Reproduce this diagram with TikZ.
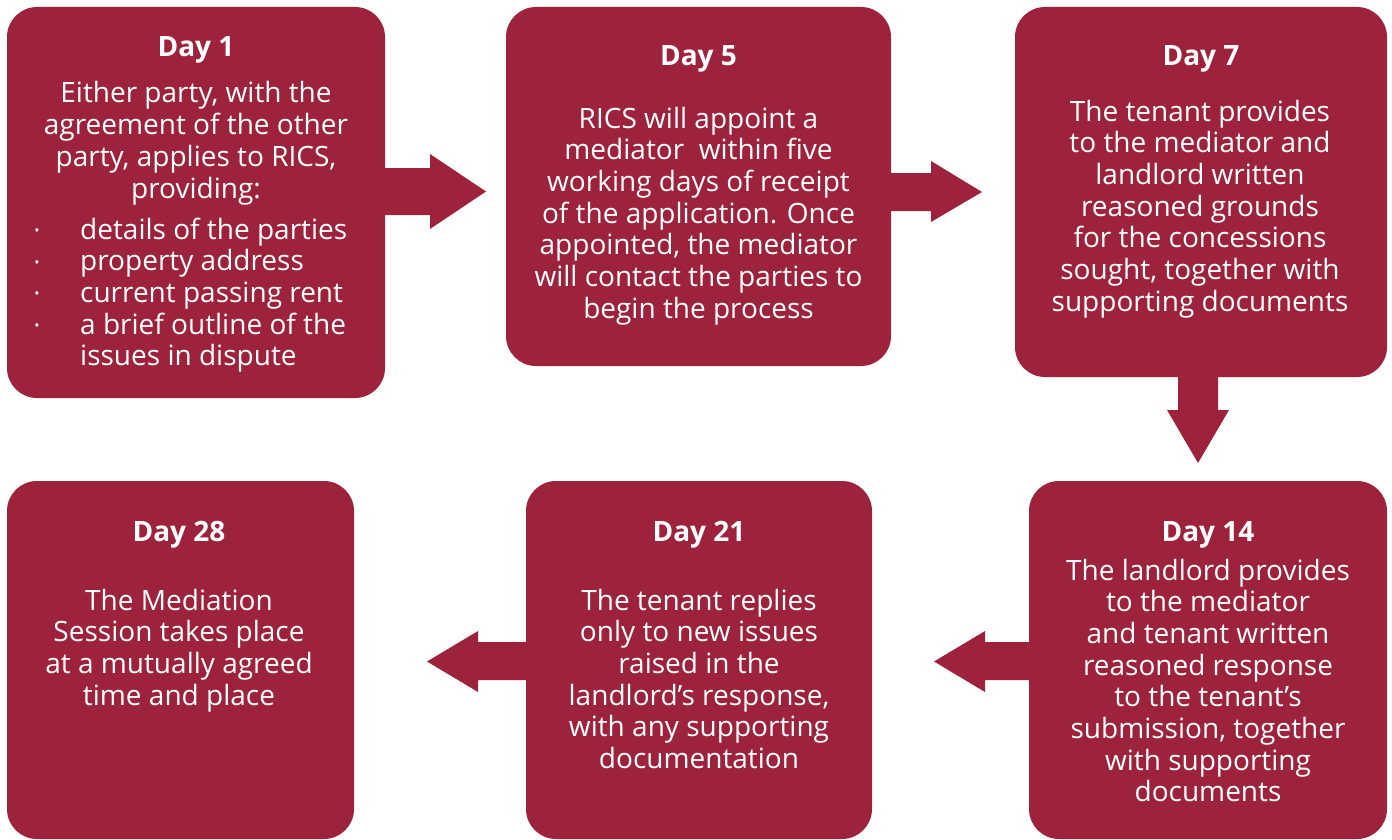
\documentclass[tikz,border=0pt]{standalone}
\usepackage{fontspec}
\setmainfont{Open Sans}
\definecolor{rics}{RGB}{157,34,59}
\begin{document}
\begin{tikzpicture}[x=1pt,y=-1pt,
  box/.style={fill=rics, rounded corners=30pt, inner sep=0pt, draw=none},
  title/.style={text=white, anchor=base, inner sep=0pt, font=\fontsize{28}{31.7}\selectfont\bfseries},
  body/.style={text=white, anchor=base, inner sep=0pt, align=center, font=\fontsize{28}{31.7}\selectfont},
  flow/.style={fill=rics}]
\useasboundingbox (0,0) rectangle (1392,840);
% boxes
\node[box, minimum width=378pt, minimum height=391pt] (b1) at (196,202.5) {};
\node[box, minimum width=385pt, minimum height=359pt] (b2) at (698.5,186.5) {};
\node[box, minimum width=372pt, minimum height=370pt] (b3) at (1201,192) {};
\node[box, minimum width=358pt, minimum height=358pt] (b6) at (1208,660) {};
\node[box, minimum width=346pt, minimum height=358pt] (b5) at (699,660) {};
\node[box, minimum width=347pt, minimum height=358pt] (b4) at (180.5,660) {};
% arrows
\fill[flow] (b1.east |- 0,168) -- (430,168) -- (430,154) -- (486,191.5) -- (430,229) -- (430,215) -- (b1.east |- 0,215) -- cycle;
\fill[flow] (b2.east |- 0,173) -- (931,173) -- (931,161) -- (982,192) -- (931,222) -- (931,211) -- (b2.east |- 0,211) -- cycle;
\fill[flow] (b3.south -| 1178,0) -- (1178,410) -- (1167,410) -- (1198,463) -- (1229,410) -- (1218,410) -- (b3.south -| 1218,0) -- cycle;
\fill[flow] (b6.west |- 0,642) -- (985,642) -- (985,631) -- (934,661.5) -- (985,692) -- (985,680) -- (b6.west |- 0,680) -- cycle;
\fill[flow] (b5.west |- 0,642) -- (478,642) -- (478,631) -- (427,661.5) -- (478,692) -- (478,680) -- (b5.west |- 0,680) -- cycle;
% titles
\node[title] (t1) at (196,57) {Day 1};
\node[title] (t2) at (698.5,66) {Day 5};
\node[title] (t3) at (1201,66) {Day 7};
\node[title] (t6) at (1208,541) {Day 14};
\node[title] (t5) at (699,541) {Day 21};
\node[title] (t4) at (179,541) {Day 28};
% bodies (anchor base = baseline of last line)
\node[body] (d1) at (196,198.1) {Either party, with the\\agreement of the other\\party, applies to RICS,\\providing:};
\node[body, align=left, anchor=base west] (l1) at (80,365.8) {details of the parties\\property address\\current passing rent\\a brief outline of the\\issues in dispute};
\node[body, anchor=base] (k1) at (37,330.5) {\fontsize{14}{31.7}\selectfont •\\\fontsize{14}{31.7}\selectfont •\\\fontsize{14}{31.7}\selectfont •\\\fontsize{14}{31.7}\selectfont •};
\node[body] (d2) at (698.5,318.2) {RICS will appoint a\\mediator\ \ within five\\working days of receipt\\of the application. Once\\appointed, the mediator\\will contact the parties to\\begin the process};
\node[body] (d3) at (1200,311.2) {The tenant provides\\to the mediator and\\landlord written\\reasoned grounds\\for the concessions\\sought, together with\\supporting documents};
\node[body] (d6) at (1208,801.9) {The landlord provides\\to the mediator\\and tenant written\\reasoned response\\to the tenant’s\\submission, together\\with supporting\\documents};
\node[body] (d5) at (699,768.5) {The tenant replies\\only to new issues\\raised in the\\landlord’s response,\\with any supporting\\documentation};
\node[body] (d4) at (179,705.1) {The Mediation\\Session takes place\\at a mutually agreed\\time and place};
\end{tikzpicture}
\end{document}
